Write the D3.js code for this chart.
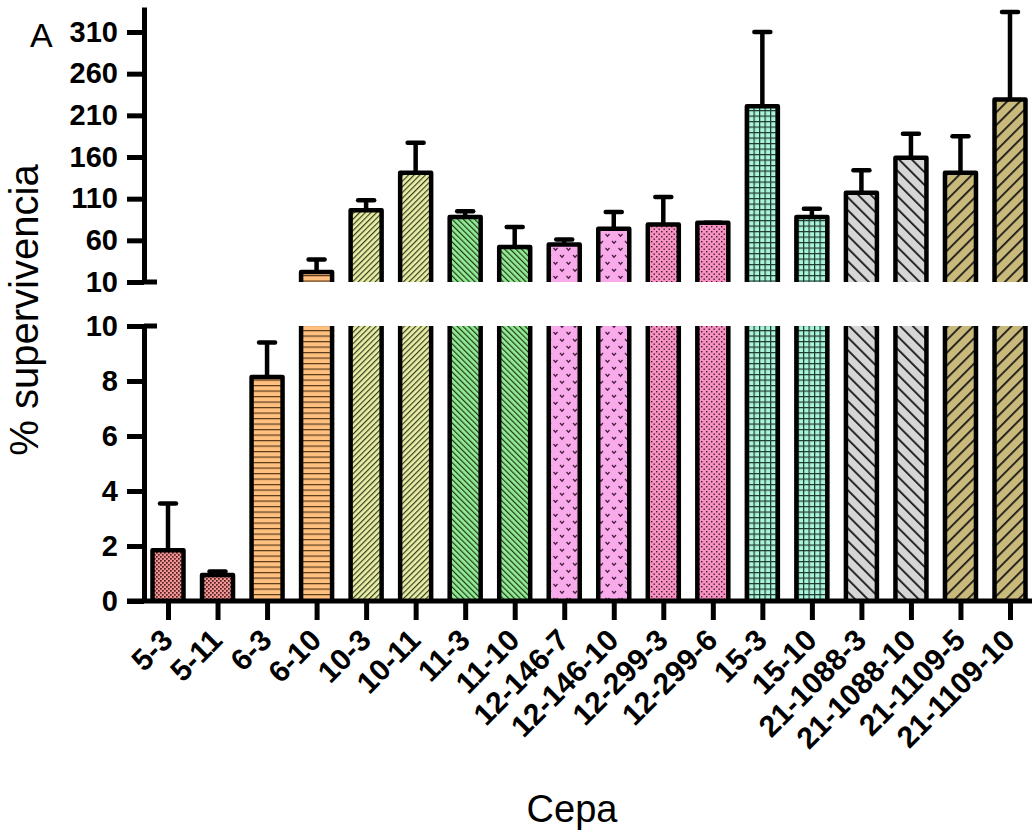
<!DOCTYPE html>
<html>
<head>
<meta charset="utf-8">
<script src="https://cdn.jsdelivr.net/npm/d3@7"></script>
<style>
  body { margin: 0; background: #fff; }
  text { font-family: "Liberation Sans", Arial, sans-serif; fill: #000; }
</style>
</head>
<body>
<script>
// data
const strains = ["5-3", "5-11", "6-3", "6-10", "10-3", "10-11", "11-3", "11-10",
  "12-146-7", "12-146-10", "12-299-3", "12-299-6", "15-3", "15-10",
  "21-1088-3", "21-1088-10", "21-1109-5", "21-1109-10"];
const means = [1.85, 0.95, 8.15, 22, 96, 141, 88, 52, 55, 74, 79, 81, 221, 88, 117, 159, 141, 229];
const sems = [1.7, 0.12, 1.25, 15, 12, 36, 7, 24, 6, 20, 33, 0, 89, 10, 27, 29, 44, 105];
const topTicks = [10, 60, 110, 160, 210, 260, 310];
const bottomTicks = [0, 2, 4, 6, 8, 10];

const W = 1032, H = 838;
const axisX = 144, barW = 31, lw = 4.5;

const svg = d3.select("body").append("svg")
    .attr("width", W)
    .attr("height", H);

var x = d3.scalePoint().domain(strains).range([168, 1010]);
var yTop = d3.scaleLinear().domain([10, 340]).range([282, 7]);   // upper segment
var yBot = d3.scaleLinear().domain([0, 10]).range([601, 326]);   // lower segment

// fill patterns, one per pair of strains
const defs = svg.append("defs");
function pattern(id, w, h, bg, rot) {
  const p = defs.append("pattern").attr("id", id)
      .attr("patternUnits", "userSpaceOnUse")
      .attr("width", w).attr("height", h);
  if (rot) p.attr("patternTransform", "rotate(" + rot + ")");
  p.append("rect").attr("width", w).attr("height", h).attr("fill", bg);
  return p;
}
// 5-x checker
var p0 = pattern("p0", 4, 4, "#f49494");
p0.append("rect").attr("width", 1.7).attr("height", 1.7).attr("fill", "#4a2222");
p0.append("rect").attr("x", 2).attr("y", 2).attr("width", 1.7).attr("height", 1.7).attr("fill", "#4a2222");
// 6-x horizontal lines
var p1 = pattern("p1", 6, 5.5, "#ffc080");
p1.append("rect").attr("y", 0).attr("width", 6).attr("height", 1.2).attr("fill", "#5a3a18");
// 10-x thin "/"
var p2 = pattern("p2", 4, 4, "#e8f0a8", 45);
p2.append("rect").attr("width", 1.2).attr("height", 4).attr("fill", "#3c3c22");
// 11-x thin "\"
var p3 = pattern("p3", 4, 4, "#94ec94", -45);
p3.append("rect").attr("width", 1.2).attr("height", 4).attr("fill", "#1e3a1e");
// 12-146-x little marks
var p4 = pattern("p4", 13, 14, "#f8aaea");
[[3, 3], [9.5, 10]].forEach(function (c) {
  p4.append("path")
      .attr("d", "M" + (c[0] - 2) + "," + c[1] + " l2,2.2 l2,-2.2")
      .attr("fill", "none").attr("stroke", "#4a2040").attr("stroke-width", 1.3);
});
// 12-299-x dots
var p5 = pattern("p5", 5, 5, "#f892c2");
p5.append("rect").attr("x", 1).attr("y", 1).attr("width", 1.4).attr("height", 1.4).attr("fill", "#3a1a2a");
p5.append("rect").attr("x", 3.5).attr("y", 3.5).attr("width", 1.4).attr("height", 1.4).attr("fill", "#3a1a2a");
// 15-x grid
var p6 = pattern("p6", 5.5, 5.5, "#aaf4da");
p6.append("rect").attr("width", 5.5).attr("height", 1.2).attr("fill", "#1e3a30");
p6.append("rect").attr("width", 1.2).attr("height", 5.5).attr("fill", "#1e3a30");
// 21-1088-x wide "\"
var p7 = pattern("p7", 9, 9, "#d6d6d6", -45);
p7.append("rect").attr("width", 1.8).attr("height", 9).attr("fill", "#1a1a1a");
// 21-1109-x wide "/"
var p8 = pattern("p8", 9, 9, "#c9b97a", 45);
p8.append("rect").attr("width", 1.8).attr("height", 9).attr("fill", "#1a1a1a");

const bars = svg.append("g");

strains.forEach(function (s, i) {
  var cx = x(s), left = cx - barW / 2, right = cx + barW / 2;
  var fill = "url(#p" + Math.floor(i / 2) + ")";

  // lower segment (clipped at 10)
  var yb = yBot(Math.min(means[i], 10));
  bars.append("rect")
      .attr("x", left).attr("y", yb)
      .attr("width", barW).attr("height", yBot(0) - yb)
      .attr("fill", fill);
  var d = means[i] > 10
      ? "M" + left + "," + yBot(0) + "V" + yb + "M" + right + "," + yBot(0) + "V" + yb
      : "M" + left + "," + yBot(0) + "V" + yb + "H" + right + "V" + yBot(0);
  bars.append("path").attr("d", d)
      .attr("fill", "none").attr("stroke", "#000")
      .attr("stroke-width", lw).attr("stroke-linejoin", "round");

  // upper segment
  if (means[i] > 10) {
    var yt = yTop(means[i]);
    bars.append("rect")
        .attr("x", left).attr("y", yt)
        .attr("width", barW).attr("height", yTop(10) - yt)
        .attr("fill", fill);
    bars.append("path")
        .attr("d", "M" + left + "," + yTop(10) + "V" + yt + "H" + right + "V" + yTop(10))
        .attr("fill", "none").attr("stroke", "#000")
        .attr("stroke-width", lw).attr("stroke-linejoin", "round");
  }

  // error bar (upper half only)
  var y = means[i] > 10 ? yTop : yBot;
  var y0 = y(means[i]), y1 = y(means[i] + sems[i]);
  bars.append("line")
      .attr("x1", cx).attr("x2", cx).attr("y1", y0).attr("y2", y1)
      .attr("stroke", "#000").attr("stroke-width", lw);
  bars.append("line")
      .attr("x1", cx - 8).attr("x2", cx + 8).attr("y1", y1).attr("y2", y1)
      .attr("stroke", "#000").attr("stroke-width", lw).attr("stroke-linecap", "round");
});

// y axes
function styleAxis(g) {
  g.select(".domain").attr("stroke-width", 5);
  g.selectAll(".tick line").attr("stroke-width", 5);
  g.selectAll(".tick text")
      .attr("font-size", 29).attr("font-weight", "bold")
      .attr("font-family", "'Liberation Sans', Arial, sans-serif");
}
svg.append("g")
    .attr("transform", "translate(" + axisX + ",0)")
    .call(d3.axisLeft(yTop).tickValues(topTicks).tickSize(17).tickSizeOuter(0).tickPadding(9))
    .call(styleAxis);
svg.append("g")
    .attr("transform", "translate(" + axisX + ",0)")
    .call(d3.axisLeft(yBot).tickValues(bottomTicks).tickSize(17).tickSizeOuter(0).tickPadding(9))
    .call(styleAxis);

// break marks at the 10 of both segments
[yTop(10), yBot(10)].forEach(function (yy) {
  svg.append("line")
      .attr("x1", axisX).attr("x2", axisX + 13).attr("y1", yy).attr("y2", yy)
      .attr("stroke", "#000").attr("stroke-width", 5);
});

// x axis
var gx = svg.append("g")
    .attr("transform", "translate(0," + yBot(0) + ")")
    .call(d3.axisBottom(x).tickSize(19).tickSizeOuter(0));
gx.select(".domain").remove();
gx.selectAll(".tick line").attr("stroke-width", 5);
gx.selectAll(".tick text")
    .attr("x", 0).attr("y", 0).attr("dy", "0.71em")
    .attr("text-anchor", "end")
    .attr("transform", "translate(-9,26) rotate(-45)")
    .attr("font-size", 30).attr("font-weight", "bold")
    .attr("font-family", "'Liberation Sans', Arial, sans-serif");
svg.append("line")
    .attr("x1", axisX - 17).attr("x2", W).attr("y1", yBot(0)).attr("y2", yBot(0))
    .attr("stroke", "#000").attr("stroke-width", 5);

// titles
svg.append("text").attr("x", 30).attr("y", 47).attr("font-size", 34).text("A");
svg.append("text")
    .attr("transform", "translate(38,310) rotate(-90)")
    .attr("text-anchor", "middle").attr("font-size", 40)
    .text("% supervivencia");
svg.append("text")
    .attr("x", 572).attr("y", 822)
    .attr("text-anchor", "middle").attr("font-size", 38)
    .text("Cepa");
</script>
</body>
</html>
